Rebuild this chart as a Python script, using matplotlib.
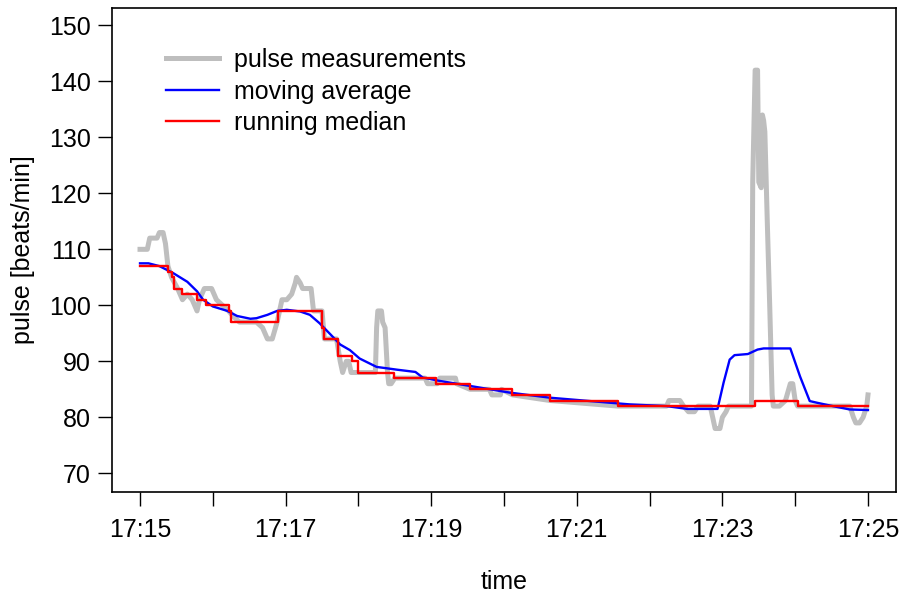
import matplotlib
matplotlib.use("Agg")
import matplotlib.pyplot as plt

plt.rcParams['font.family'] = ['Liberation Sans', 'DejaVu Sans']

# time in seconds after 17:15:00
pulse_t = [0, 6, 8, 14, 16, 19, 21, 23, 26, 31, 35, 39, 43, 47, 49, 53, 59, 63, 68, 73,
           77, 82, 96, 101, 105, 109, 113, 117, 121, 125, 128, 129, 132, 134, 141, 143,
           150, 152, 162, 165, 167, 170, 172, 174, 194, 195, 196, 199, 200, 202, 204,
           205, 207, 210, 235, 237, 245, 247, 260, 261, 272, 288, 290, 297, 298, 307,
           338, 394, 434, 436, 445, 448, 452, 457, 460, 470, 472, 474, 478, 480, 483,
           485, 504, 505, 507, 509, 510, 512, 513, 514, 515, 517, 519, 521, 522, 527,
           532, 536, 538, 540, 542, 585, 588, 590, 593, 596, 599, 600]
pulse_v = [110, 110, 112, 112, 113, 113, 111, 107, 105, 103, 101, 102, 101, 99, 101, 103,
           103, 101, 100, 99, 98, 97, 97, 96, 94, 94, 97, 101, 101, 102, 104, 105, 104,
           103, 103, 99, 99, 94, 94, 90, 88, 90, 90, 88, 88, 96, 99, 99, 97, 96, 88, 86,
           86, 87, 87, 86, 86, 87, 87, 86, 85, 85, 84, 84, 85, 84, 83, 82, 82, 83, 83,
           82, 81, 81, 82, 82, 80, 78, 78, 80, 81, 82, 82, 122, 142, 142, 122, 121, 134,
           133, 131, 115, 100, 84, 82, 82, 83, 86, 86, 83, 82, 82, 80, 79, 79, 80, 82, 84]

avg_t = [0, 7, 16, 27, 39, 47, 52, 60, 72, 80, 91, 96, 105, 113, 121, 132, 140, 148, 157,
         165, 173, 181, 195, 212, 227, 233, 247, 272, 305, 338, 371, 404, 434, 451, 476,
         481, 486, 490, 501, 509, 514, 536, 544, 552, 558, 571, 585, 600]
avg_v = [107.5, 107.5, 107.0, 105.8, 104.2, 102.5, 101.0, 99.8, 99.0, 98.1, 97.6, 97.7,
         98.3, 99.0, 99.2, 98.9, 98.3, 96.8, 94.8, 93.0, 92.0, 90.5, 89.0, 88.5, 88.1,
         87.1, 86.5, 85.6, 84.4, 83.5, 82.9, 82.3, 82.0, 81.5, 81.5, 86.2, 90.3, 91.1,
         91.3, 92.1, 92.3, 92.3, 87.3, 82.9, 82.6, 82.0, 81.4, 81.3]

med_t = [0, 23, 26, 28, 35, 47, 54, 73, 75, 114, 150, 152, 163, 175, 180, 209, 244, 272,
         307, 338, 394, 507, 542, 600]
med_v = [107, 106, 105, 103, 102, 101, 100, 99, 97, 99, 96, 94, 91, 90, 88, 87, 86, 85,
         84, 83, 82, 83, 82, 82]

x_ticks = [0, 60, 120, 180, 240, 300, 360, 420, 480, 540, 600]
x_labels = ["17:15", "", "17:17", "", "17:19", "", "17:21", "", "17:23", "", "17:25"]
y_ticks = [70, 80, 90, 100, 110, 120, 130, 140, 150]

fig = plt.figure(figsize=(9.01, 5.94), dpi=100)
ax = fig.add_axes([111.7 / 901, 1 - 492 / 594, (896 - 111.7) / 901, (492 - 8) / 594])

ax.plot(pulse_t, pulse_v, color='#BEBEBE', lw=3.6, solid_joinstyle='round',
        label='pulse measurements')
ax.plot(avg_t, avg_v, color='#0000FF', lw=1.7, label='moving average')
ax.plot(med_t, med_v, color='#FF0000', lw=1.7, drawstyle='steps-post',
        label='running median')

ax.set_xlim(-0.389 * 60, 10.385 * 60)
ax.set_ylim(66.66, 153.1)
ax.set_xticks(x_ticks)
ax.set_xticklabels(x_labels)
ax.set_yticks(y_ticks)
ax.tick_params(axis='both', length=10, width=1.0, labelsize=18, direction='out')
ax.tick_params(axis='x', pad=9)
ax.tick_params(axis='y', pad=5)
for s in ax.spines.values():
    s.set_linewidth(1.2)

ax.set_xlabel('time', fontsize=18, labelpad=20)
ax.set_ylabel('pulse [beats/min]', fontsize=18, labelpad=10)

leg = ax.legend(loc='upper left', bbox_to_anchor=(0.056, 0.938), frameon=False,
                fontsize=18, handlelength=2.12, handletextpad=0.6, labelspacing=0.3,
                borderaxespad=0)

fig.savefig('out.png', dpi=100)
